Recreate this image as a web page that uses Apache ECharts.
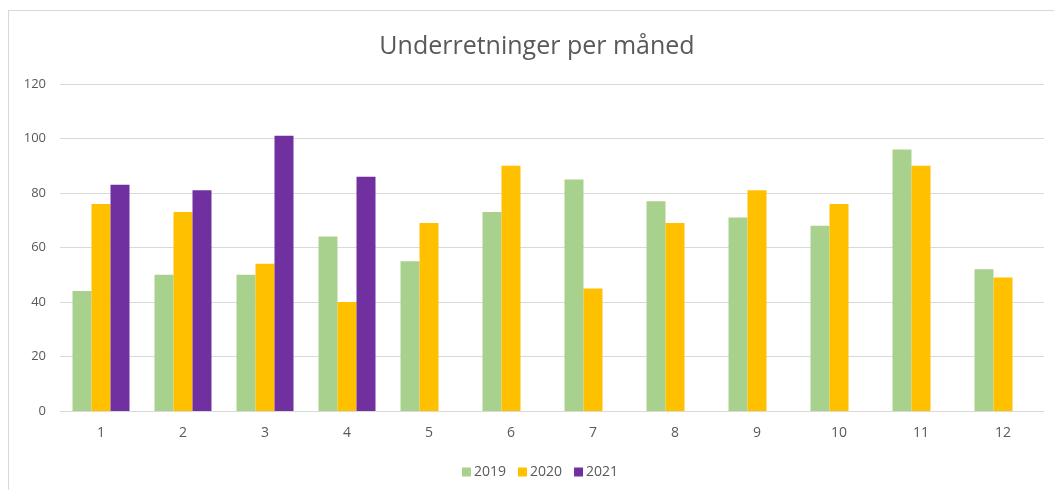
<!DOCTYPE html>
<html>
<head>
<meta charset="utf-8">
<script src="https://cdn.jsdelivr.net/npm/echarts@6/dist/echarts.min.js"></script>
<style>
  html, body { margin: 0; padding: 0; background: #fff; }
  #frame { position: absolute; left: 8px; top: 10px; width: 1100px; height: 500px;
           border-top: 1px solid #d9d9d9; border-left: 1px solid #d9d9d9; }
  #main { position: absolute; left: 0; top: 0; width: 1054px; height: 490px; }
</style>
</head>
<body>
<div id="frame"></div>
<div id="main"></div>
<script>
// months on the x axis
var months = ["1", "2", "3", "4", "5", "6", "7", "8", "9", "10", "11", "12"];
var years = ["2019", "2020", "2021"];

var v2019 = [44, 50, 50, 64, 55, 73, 85, 77, 71, 68, 96, 52];
var v2020 = [76, 73, 54, 40, 69, 90, 45, 69, 81, 76, 90, 49];
var v2021 = [83, 81, 101, 86, null, null, null, null, null, null, null, null];

var colors = ["#a9d18e", "#ffc000", "#7030a0"];
var font = "'Open Sans', 'Noto Sans', sans-serif";

var myChart = echarts.init(document.getElementById("main"));

function bar(name, data, color) {
  return {
    name: name,
    type: "bar",
    data: data,
    barWidth: 19,
    barGap: "0%",
    itemStyle: { color: color }
  };
}

myChart.setOption({
  animation: false,
  textStyle: { fontFamily: font },
  title: {
    text: "Underretninger per måned",
    left: 532,
    textAlign: "center",
    top: 29,
    textStyle: { fontSize: 25, fontWeight: "normal", color: "#595959", fontFamily: font }
  },
  legend: {
    data: years,
    left: 457,
    top: 460,
    icon: "rect",
    itemWidth: 9,
    itemHeight: 9,
    itemGap: 12,
    textStyle: { fontSize: 14, color: "#595959", padding: [0, 0, 0, -2] }
  },
  grid: {
    left: 60,
    right: 10,
    top: 84,
    bottom: 79
  },
  xAxis: {
    type: "category",
    data: months,
    axisTick: { show: false },
    axisLine: { lineStyle: { color: "#d9d9d9" } },
    axisLabel: { color: "#595959", fontSize: 14, margin: 15 }
  },
  yAxis: {
    type: "value",
    min: 0,
    max: 120,
    interval: 20,
    axisLine: { show: false },
    axisTick: { show: false },
    splitLine: { lineStyle: { color: "#d9d9d9" } },
    axisLabel: { color: "#595959", fontSize: 13, margin: 14 }
  },
  series: [
    bar(years[0], v2019, colors[0]),
    bar(years[1], v2020, colors[1]),
    bar(years[2], v2021, colors[2])
  ]
});
</script>
</body>
</html>
